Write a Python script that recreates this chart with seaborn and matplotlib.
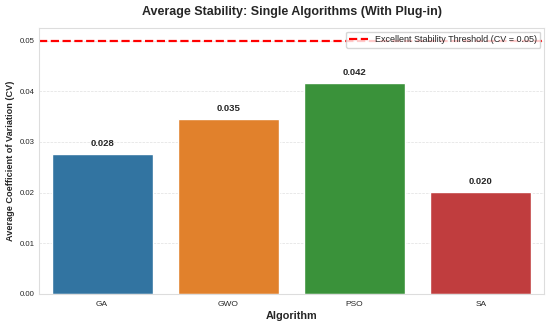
import matplotlib
matplotlib.use("Agg")
import matplotlib.pyplot as plt
import seaborn as sns
import pandas as pd

# values
algorithms = ["GA", "GWO", "PSO", "SA"]
avg_cv = [0.0276, 0.0346, 0.0417, 0.0201]
threshold = 0.05

df = pd.DataFrame({"Algorithm": algorithms, "CV": avg_cv})

sns.set_theme(style="whitegrid")
plt.rcParams["font.family"] = ["Liberation Sans", "DejaVu Sans"]

fig = plt.figure(figsize=(5.5, 3.24), dpi=100)
ax = fig.add_axes([0.071, 0.0926, 0.918, 0.821])

sns.barplot(data=df, x="Algorithm", y="CV", hue="Algorithm", palette="tab10",
            width=0.8, legend=False, ax=ax)

ax.axhline(threshold, color="red", linestyle="--", linewidth=1.6,
           label=f"Excellent Stability Threshold (CV = {threshold})")

for i, v in enumerate(avg_cv):
    ax.text(i, v + 0.0012, f"{v:.3f}", ha="center", va="bottom",
            fontsize=6.8, fontweight="bold")

ax.set_ylim(0, 0.0525)
ax.set_title("Average Stability: Single Algorithms (With Plug-in)",
             fontsize=9, fontweight="bold", pad=9)
ax.set_xlabel("Algorithm", fontsize=7.8, fontweight="bold", labelpad=2)
ax.set_ylabel("Average Coefficient of Variation (CV)", fontsize=6.6,
              fontweight="bold")
ax.tick_params(axis="both", labelsize=5.6, pad=3, length=0)
ax.tick_params(axis="x", labelsize=6, pad=5)
ax.yaxis.set_label_coords(-0.047, 0.5)
ax.grid(axis="y", linestyle="--", alpha=0.6, linewidth=0.5)
ax.grid(axis="x", visible=False)
for s in ax.spines.values():
    s.set_color("#dddddd")
    s.set_linewidth(0.8)

ax.legend(loc="upper right", fontsize=6.5, frameon=True, borderaxespad=0.4)

fig.savefig("out.png", dpi=100)
